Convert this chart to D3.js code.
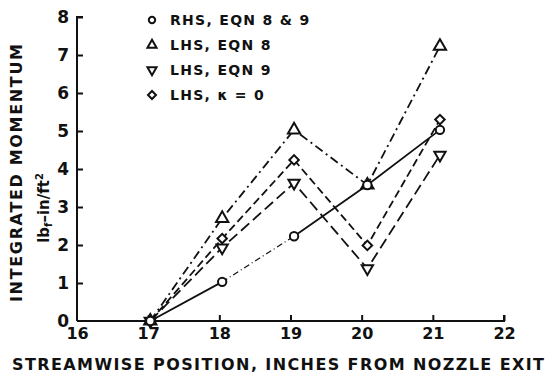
<!DOCTYPE html>
<html><head><meta charset="utf-8">
<script src="https://cdn.jsdelivr.net/npm/d3@7"></script>
<style>
html,body{margin:0;padding:0;background:#fff;}
text{font-family:"DejaVu Sans",sans-serif;font-weight:bold;fill:#111;}
</style></head>
<body><svg id="c" width="550" height="377"></svg>
<script>
const positions = [17.03, 18.04, 19.05, 20.08, 21.1];
const rhsEqn89 = [0, 1.03, 2.23, 3.58, 5.03];
const lhsEqn8 = [0, 2.70, 5.03, 3.58, 7.23];
const lhsEqn9 = [0, 1.93, 3.63, 1.38, 4.37];
const lhsK0 = [0, 2.17, 4.24, 1.99, 5.30];
const xTicks = [16, 17, 18, 19, 20, 21, 22];
const yTicks = [0, 1, 2, 3, 4, 5, 6, 7, 8];
const legendLabels = ["RHS, EQN 8 & 9", "LHS, EQN 8", "LHS, EQN 9", "LHS, \u03BA = 0"];

const svg = d3.select("#c");
const x = d3.scaleLinear().domain([16, 22]).range([77, 504]);
const y = d3.scaleLinear().domain([0, 8]).range([321, 17]);
const ink = "#111";

// axes
const xAxis = d3.axisBottom(x).tickValues(xTicks).tickSize(-6).tickFormat(d3.format("d"));
const gx = svg.append("g").attr("transform", `translate(0,${y(0)})`).call(xAxis);
gx.select(".domain").attr("stroke", ink).attr("stroke-width", 2).attr("d", `M${x(16)},0H${x(22)}V-6`);
gx.selectAll(".tick line").attr("stroke", ink).attr("stroke-width", 2);
gx.selectAll(".tick").filter(d => d === 16).select("line").remove();
gx.selectAll(".tick text").attr("y", 7).attr("font-size", 16).attr("font-weight", "bold").attr("fill", ink)
  .attr("font-family", "DejaVu Sans, sans-serif");

const yAxis = d3.axisLeft(y).tickValues(yTicks).tickSize(-6).tickFormat(d3.format("d"));
const gy = svg.append("g").attr("transform", `translate(${x(16)},0)`).call(yAxis);
gy.select(".domain").attr("stroke", ink).attr("stroke-width", 2).attr("d", `M6,${y(8)}H0V${y(0)}`);
gy.selectAll(".tick line").attr("stroke", ink).attr("stroke-width", 2);
gy.selectAll(".tick").filter(d => d === 0).select("line").remove();
gy.selectAll(".tick text").attr("x", -8).attr("font-size", 17).attr("font-weight", "bold").attr("fill", ink)
  .attr("font-family", "DejaVu Sans, sans-serif");

// axis titles
svg.append("text").attr("x", 278).attr("y", 370).attr("text-anchor", "middle")
  .attr("font-size", 16).attr("textLength", 532).attr("lengthAdjust", "spacing")
  .text("STREAMWISE POSITION, INCHES FROM NOZZLE EXIT");
svg.append("text").attr("transform", "translate(22,173) rotate(-90)").attr("text-anchor", "middle")
  .attr("font-size", 16).attr("textLength", 258).attr("lengthAdjust", "spacing")
  .text("INTEGRATED MOMENTUM");
const sub = svg.append("text").attr("transform", "translate(49,208) rotate(-90)").attr("text-anchor", "middle")
  .attr("font-size", 15);
sub.append("tspan").text("lb");
sub.append("tspan").attr("font-size", 10).attr("dy", 3).text("f");
sub.append("tspan").attr("dy", -3).text("\u2013in/ft");
sub.append("tspan").attr("font-size", 10).attr("dy", -6).text("2");

// lines
const line = d3.line().x(d => x(d[0])).y(d => y(d[1]));
function pts(vals) { return positions.map((p, i) => [p, vals[i]]); }

const series = [
  {vals: lhsEqn8, dash: "9,4,2,4", sym: d3.symbolTriangle, size: 65, rot: 0},
  {vals: lhsEqn9, dash: "11,5", sym: d3.symbolTriangle, size: 55, rot: 180},
  {vals: lhsK0, dash: "8,4", sym: d3.symbolSquare, size: 45, rot: 45},
];
series.forEach(s => {
  svg.append("path").datum(pts(s.vals)).attr("d", line).attr("fill", "none")
    .attr("stroke", ink).attr("stroke-width", 1.8).attr("stroke-dasharray", s.dash);
});
// RHS: solid except the 18->19 segment
const rp = pts(rhsEqn89);
svg.append("path").datum(rp.slice(0, 2)).attr("d", line).attr("fill", "none").attr("stroke", ink).attr("stroke-width", 1.8);
svg.append("path").datum(rp.slice(1, 3)).attr("d", line).attr("fill", "none").attr("stroke", ink)
  .attr("stroke-width", 1.2).attr("stroke-dasharray", "6,3,1,3");
svg.append("path").datum(rp.slice(2)).attr("d", line).attr("fill", "none").attr("stroke", ink).attr("stroke-width", 1.8);

// markers
function drawMarkers(vals, sym, size, rot) {
  svg.append("g").selectAll("path").data(pts(vals)).join("path")
    .attr("transform", d => `translate(${x(d[0])},${y(d[1])}) rotate(${rot})`)
    .attr("d", d3.symbol().type(sym).size(size)).attr("fill", "#fff").attr("stroke", ink).attr("stroke-width", 2);
}
series.forEach(s => drawMarkers(s.vals, s.sym, s.size, s.rot));
drawMarkers(rhsEqn89, d3.symbolCircle, 55, 0);

// legend
const legSyms = [
  {sym: d3.symbolCircle, size: 32, rot: 0},
  {sym: d3.symbolTriangle, size: 36, rot: 0},
  {sym: d3.symbolTriangle, size: 36, rot: 180},
  {sym: d3.symbolSquare, size: 32, rot: 45},
];
const lg = svg.append("g");
legendLabels.forEach((lab, i) => {
  const yy = 20 + i * 25;
  lg.append("path").attr("transform", `translate(152,${yy}) rotate(${legSyms[i].rot})`)
    .attr("d", d3.symbol().type(legSyms[i].sym).size(legSyms[i].size))
    .attr("fill", "none").attr("stroke", ink).attr("stroke-width", 2);
  lg.append("text").attr("x", 170).attr("y", yy + 5).attr("font-size", 14).attr("letter-spacing", 1.3).text(lab);
});
</script></body></html>
